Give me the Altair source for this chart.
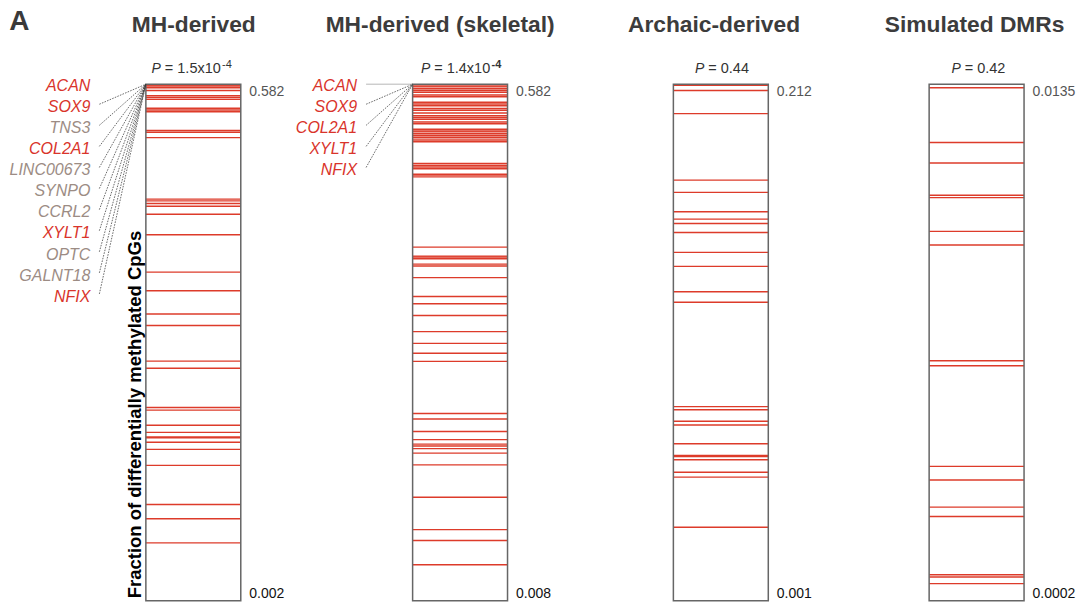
import altair as alt
import pandas as pd

FONT = "Liberation Sans"

# ---- data -------------------------------------------------------------
TITLES = ["MH-derived", "MH-derived (skeletal)", "Archaic-derived", "Simulated DMRs"]
P_MANTISSA = ["1.5x10", "1.4x10", "0.44", "0.42"]
P_EXPONENT = ["-4", "-4", "", ""]

TOP_VALUES = [0.582, 0.582, 0.212, 0.0135]
BOTTOM_VALUES = [0.002, 0.008, 0.001, 0.0002]

MH_DERIVED = [0.581, 0.580, 0.578, 0.575, 0.569, 0.567, 0.565, 0.555, 0.553, 0.551,
              0.530, 0.528, 0.522, 0.453, 0.451, 0.448, 0.445, 0.436, 0.413, 0.371,
              0.350, 0.324, 0.311, 0.271, 0.263, 0.219, 0.216, 0.199, 0.191, 0.186,
              0.185, 0.180, 0.172, 0.154, 0.110, 0.094, 0.067]

MH_SKELETAL = [0.580, 0.579, 0.577, 0.575, 0.573, 0.570, 0.568, 0.562, 0.560, 0.558,
               0.555, 0.553, 0.550, 0.547, 0.545, 0.543, 0.540, 0.538, 0.532, 0.530,
               0.529, 0.527, 0.525, 0.523, 0.521, 0.519, 0.518, 0.494, 0.492, 0.490,
               0.488, 0.482, 0.481, 0.479, 0.401, 0.391, 0.390, 0.388, 0.382, 0.380,
               0.367, 0.346, 0.338, 0.325, 0.307, 0.294, 0.283, 0.274, 0.216, 0.210,
               0.196, 0.187, 0.182, 0.180, 0.177, 0.172, 0.159, 0.123, 0.087, 0.075,
               0.048]

ARCHAIC = [0.2116, 0.2094, 0.2000, 0.1728, 0.1678, 0.1599, 0.1569, 0.1551, 0.1514,
           0.1433, 0.1376, 0.1272, 0.1229, 0.0803, 0.0790, 0.0743, 0.0728, 0.0651,
           0.0603, 0.0599, 0.0586, 0.0535, 0.0515, 0.0310]

SIMULATED = [0.01341, 0.01200, 0.01147, 0.01064, 0.01058, 0.00971, 0.00936, 0.00638,
             0.00625, 0.00366, 0.00331, 0.00261, 0.00237, 0.00087, 0.00081, 0.00064]

GENES_MH = ["ACAN", "SOX9", "TNS3", "COL2A1", "LINC00673", "SYNPO", "CCRL2",
            "XYLT1", "OPTC", "GALNT18", "NFIX"]
GENES_SKELETAL = ["ACAN", "SOX9", "COL2A1", "XYLT1", "NFIX"]
SKELETAL_SET = set(GENES_SKELETAL)

# ---- styling / layout ---------------------------------------------------
RED_LINE = "#dd3b2a"
RED_TEXT = "#d9342b"
GRAY_TEXT = "#9c8c84"
BOX_COLOR = "#666666"
TITLE_COLOR = "#3c3c3c"

BOX_W = 95
BOX_H = 517
ROW_PX = 21.1                  # vertical spacing of the gene labels
ROWS = BOX_H / ROW_PX          # annotation scale spans the box height in label rows
GAPS = [172, 166, 161]

XS = alt.Scale(domain=[0, 1], nice=False, zero=False)
AS = alt.Scale(domain=[0, ROWS], nice=False, zero=False, reverse=True)

ONE = pd.DataFrame({"k": [0]})


def ax(v):
    return alt.X(datum=v, scale=XS, axis=None)


def ay(v):
    return alt.Y(datum=v, scale=AS, axis=None)


def text_layer(text, x, y, **mark):
    return alt.Chart(pd.DataFrame({"t": [text]})).mark_text(font=FONT, **mark).encode(
        x=ax(x), y=ay(y), text="t:N")


def panel(i, values, title_x, p_x, genes=None, solid_first=False,
          sup_bold=False, extras=()):
    vmin, vmax = BOTTOM_VALUES[i], TOP_VALUES[i]
    mid = (vmin + vmax) / 2

    lines = alt.Chart(pd.DataFrame({"fraction": values})).mark_rule(
        color=RED_LINE, strokeWidth=1.4
    ).encode(
        y=alt.Y(
            "fraction:Q",
            scale=alt.Scale(domain=[vmin, vmax], nice=False, zero=False),
            axis=alt.Axis(
                orient="right", values=[vmax, vmin], labelExpr="'' + datum.value",
                labelFlush=True, ticks=False, tickSize=0, domain=False, grid=False,
                title=None, labelPadding=8, labelFontSize=14, labelFont=FONT,
                labelColor=alt.ExprRef(
                    expr=f"datum.value > {mid} ? '#555555' : '#111111'"),
            ),
        )
    )

    box = alt.Chart(ONE).mark_rect(
        fill="white", fillOpacity=0, stroke=BOX_COLOR, strokeWidth=1.5
    ).encode(x=ax(0), x2=alt.X2(datum=1), y=ay(0), y2=alt.Y2(datum=ROWS))

    layers = [lines, box]

    layers.append(text_layer(TITLES[i], title_x, -2.49, fontSize=22.8,
                             fontWeight="bold", color=TITLE_COLOR,
                             align="center", baseline="alphabetic"))
    # italic "P", then "= value", then an optional raised exponent
    layers.append(text_layer("P", p_x, -0.535, fontSize=14, fontStyle="italic",
                             color="#333333", align="right", baseline="alphabetic"))
    layers.append(text_layer("= " + P_MANTISSA[i], p_x, -0.535, fontSize=14.5, dx=4,
                             color="#333333", align="left", baseline="alphabetic"))
    if P_EXPONENT[i]:
        layers.append(text_layer(P_EXPONENT[i], p_x + 0.645, -0.78, fontSize=11,
                                 fontWeight="bold" if sup_bold else "normal",
                                 color="#333333", align="left",
                                 baseline="alphabetic"))

    if genes:
        gdf = pd.DataFrame({
            "gene": genes,
            "row": [k + 0.08 for k in range(len(genes))],
            "kind": ["skeletal" if g in SKELETAL_SET else "other" for g in genes],
        })
        gdf["start"] = gdf["row"] - 0.13
        gdf["style"] = "dotted"
        if solid_first:
            gdf.loc[0, "start"] = 0.0
            gdf.loc[0, "style"] = "solid"
            leaders = gdf
        else:
            leaders = gdf.iloc[1:]

        layers.append(
            alt.Chart(leaders).mark_rule(strokeWidth=0.75).encode(
                x=ax(-0.49), x2=alt.X2(datum=0),
                y=alt.Y("start:Q", scale=AS, axis=None), y2=alt.Y2(datum=0),
                color=alt.Color("style:N", scale=alt.Scale(
                    domain=["dotted", "solid"], range=["#3a3a3a", "#9a9a9a"]),
                    legend=None),
                strokeDash=alt.StrokeDash("style:N", scale=alt.Scale(
                    domain=["dotted", "solid"], range=[[1.6, 1.2], [1, 0]]),
                    legend=None),
            )
        )
        layers.append(
            alt.Chart(gdf).mark_text(font=FONT, fontSize=16, fontStyle="italic",
                                     align="right", baseline="middle").encode(
                x=ax(-0.585),
                y=alt.Y("row:Q", scale=AS, axis=None),
                text="gene:N",
                color=alt.Color("kind:N", scale=alt.Scale(
                    domain=["skeletal", "other"], range=[RED_TEXT, GRAY_TEXT]),
                    legend=None),
            )
        )

    layers.extend(extras)

    return alt.layer(*layers).resolve_scale(
        y="independent", color="independent", strokeDash="independent"
    ).properties(width=BOX_W, height=BOX_H)


def spacer(w):
    return alt.Chart(ONE).mark_point(opacity=0).encode(
        x=alt.X("k:Q", axis=None), y=alt.Y("k:Q", axis=None)
    ).properties(width=w, height=BOX_H)


panel_letter = text_layer("A", -1.439, -2.56, fontSize=28, fontWeight="bold",
                          color="#3a3a3a", align="left", baseline="alphabetic")
y_title = text_layer("Fraction of differentially methylated CpGs", -0.047, 15.67,
                     fontSize=18.5, fontWeight="bold", color="#000000",
                     align="center", baseline="alphabetic", angle=270)

p1 = panel(0, MH_DERIVED, 0.505, 0.158, genes=GENES_MH,
           extras=(panel_letter, y_title))
p2 = panel(1, MH_SKELETAL, 0.29, 0.186, genes=GENES_SKELETAL,
           solid_first=True, sup_bold=True)
p3 = panel(2, ARCHAIC, 0.428, 0.326)
p4 = panel(3, SIMULATED, 0.479, 0.333)

chart = alt.hconcat(
    p1, spacer(GAPS[0]), p2, spacer(GAPS[1]), p3, spacer(GAPS[2]), p4,
    spacing=0, bounds="flush",
).properties(
    padding={"left": 9, "top": 7, "right": 3, "bottom": 3}
).configure_view(strokeWidth=0)

chart.save("out.html", embed_options={"renderer": "svg", "actions": False})
